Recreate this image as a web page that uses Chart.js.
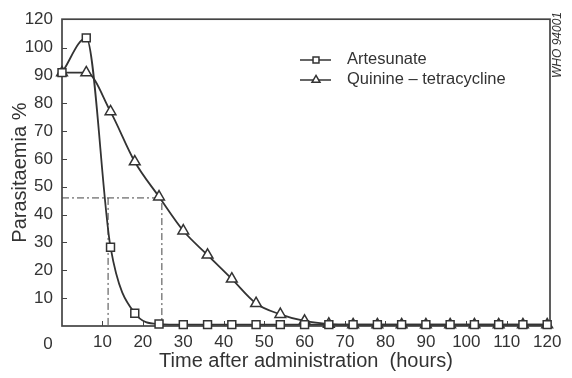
<!DOCTYPE html>
<html>
<head>
<meta charset="utf-8">
<title>Parasitaemia</title>
<script src="https://cdn.jsdelivr.net/npm/chart.js@4.4.1/dist/chart.umd.min.js"></script>
<style>
  html, body { margin: 0; padding: 0; background: #fff; }
</style>
</head>
<body>
<canvas id="chart" width="572" height="378"></canvas>
<script>
/* ─── Data ───────────────────────────────────────────── */
const HOURS = [0, 6, 12, 18, 24, 30, 36, 42, 48, 54, 60, 66, 72, 78, 84, 90, 96, 102, 108, 114, 120];
const ARTESUNATE = [91, 103.5, 28.3, 4.6, 0.7, 0.5, 0.5, 0.5, 0.5, 0.5, 0.5, 0.5, 0.5, 0.5, 0.5, 0.5, 0.5, 0.5, 0.5, 0.5, 0.5];
const QUININE = [91, 91, 77, 59, 46.4, 34.2, 25.5, 16.9, 8.1, 4.2, 1.8, 0.7, 0.5, 0.5, 0.5, 0.5, 0.5, 0.5, 0.5, 0.5, 0.5];

// 50 % clearance guide lines
const HALF_LEVEL = 46;
const HALF_TIMES = [11.4, 24.7];   // artesunate, quinine-tetracycline

const X_TICKS = [10, 20, 30, 40, 50, 60, 70, 80, 90, 100, 110, 120];
const Y_TICKS = [10, 20, 30, 40, 50, 60, 70, 80, 90, 100, 110];
const Y_TICK_LABELS = ["10", "20", "30", "40", "50", "60", "70", "80", "90", "100", "120"];

const SERIES_NAMES = ["Artesunate", "Quinine \u2013 tetracycline"];
const ORIGIN_LABEL = "0";
const STAMP = "WHO 94001";

/* ─── Styles ─────────────────────────────────────────── */
const INK = "#333";
const FONT = "'Liberation Sans', Arial, Helvetica, sans-serif";

function xy(xs, ys) {
  return xs.map((x, i) => ({ x: x, y: ys[i] }));
}

/* ─── Frame, inward ticks and extra labels ───────────── */
const framePlugin = {
  id: "frame",
  beforeDatasetsDraw(chart) {
    const { ctx, chartArea: a, scales } = chart;
    ctx.save();
    ctx.strokeStyle = "#444";
    ctx.lineWidth = 1.7;
    ctx.strokeRect(a.left, a.top, a.right - a.left, a.bottom - a.top);
    ctx.lineWidth = 1;
    ctx.beginPath();
    X_TICKS.forEach((v) => {
      const px = Math.round(scales.x.getPixelForValue(v)) + 0.5;
      ctx.moveTo(px, a.bottom);
      ctx.lineTo(px, a.bottom - 5);
    });
    Y_TICKS.slice(0, -1).forEach((v) => {
      const py = Math.round(scales.y.getPixelForValue(v)) + 0.5;
      ctx.moveTo(a.left, py);
      ctx.lineTo(a.left + 5, py);
    });
    ctx.stroke();
    ctx.restore();
  },
  afterDraw(chart) {
    const { ctx, chartArea: a } = chart;
    const helpers = Chart.helpers;
    ctx.save();
    ctx.fillStyle = INK;

    // origin "0"
    ctx.font = "17px " + FONT;
    ctx.textAlign = "center";
    ctx.textBaseline = "middle";
    ctx.fillText(ORIGIN_LABEL, a.left - 14, a.bottom + 18);

    // legend
    const rows = [60, 80];
    chart.data.datasets.slice(0, 2).forEach((ds, i) => {
      const y = rows[i];
      ctx.strokeStyle = INK;
      ctx.lineWidth = 1.5;
      ctx.beginPath();
      ctx.moveTo(300, y);
      ctx.lineTo(331, y);
      ctx.stroke();
      ctx.fillStyle = "#fff";
      helpers.drawPoint(ctx, { pointStyle: ds.pointStyle, radius: ds.pointStyle === "rect" ? 4.2 : 4.6, borderWidth: 1.4, rotation: 0 }, 316, y);
      ctx.fillStyle = INK;
      ctx.font = "16.5px " + FONT;
      ctx.textAlign = "left";
      ctx.textBaseline = "middle";
      ctx.fillText(SERIES_NAMES[i], 347, y - 1);
    });

    // stamp on the right edge
    ctx.translate(558, 45);
    ctx.rotate(-Math.PI / 2);
    ctx.font = "italic 12px " + FONT;
    ctx.textAlign = "center";
    ctx.textBaseline = "middle";
    ctx.fillText(STAMP, 0, 0);
    ctx.restore();
  },
};

/* ─── Chart ──────────────────────────────────────────── */
const guideStyle = {
  borderColor: "#444",
  borderWidth: 1,
  borderDash: [7, 3, 2, 3],
  pointRadius: 0,
  tension: 0,
  fill: false,
};

new Chart(document.getElementById("chart"), {
  type: "line",
  data: {
    datasets: [
      {
        label: SERIES_NAMES[0],
        data: xy(HOURS, ARTESUNATE),
        borderColor: INK,
        borderWidth: 1.8,
        pointStyle: "rect",
        pointRadius: 5.6,
        pointBorderWidth: 1.5,
        pointBorderColor: INK,
        pointBackgroundColor: "#fff",
        cubicInterpolationMode: "monotone",
        clip: false,
      },
      {
        label: SERIES_NAMES[1],
        data: xy(HOURS, QUININE),
        borderColor: INK,
        borderWidth: 1.8,
        pointStyle: "triangle",
        pointRadius: 6.2,
        pointBorderWidth: 1.5,
        pointBorderColor: INK,
        pointBackgroundColor: "#fff",
        cubicInterpolationMode: "monotone",
        clip: false,
      },
      Object.assign({
        data: [
          { x: 0, y: HALF_LEVEL },
          { x: HALF_TIMES[1], y: HALF_LEVEL },
          { x: HALF_TIMES[1], y: 0 },
        ],
      }, guideStyle),
      Object.assign({
        data: [
          { x: HALF_TIMES[0], y: HALF_LEVEL },
          { x: HALF_TIMES[0], y: 0 },
        ],
      }, guideStyle),
    ],
  },
  options: {
    responsive: false,
    animation: false,
    layout: { padding: { left: 0, top: 13, right: 22, bottom: 0 } },
    plugins: {
      legend: { display: false },
      tooltip: { enabled: false },
    },
    scales: {
      x: {
        type: "linear",
        min: 0,
        max: 120.7,
        afterBuildTicks: (s) => { s.ticks = X_TICKS.map((v) => ({ value: v })); },
        afterFit: (s) => { s.height = 52; },
        grid: { display: false, drawTicks: false },
        border: { display: false },
        ticks: {
          color: INK,
          padding: 6,
          maxRotation: 0,
          autoSkip: false,
          font: { family: FONT, size: 17 },
        },
        title: {
          display: true,
          text: "Time after administration  (hours)",
          color: INK,
          font: { family: FONT, size: 20 },
          padding: { top: 0, bottom: 5 },
        },
      },
      y: {
        type: "linear",
        min: 0,
        max: 110.2,
        afterBuildTicks: (s) => { s.ticks = Y_TICKS.map((v) => ({ value: v })); },
        afterFit: (s) => { s.width = 62; },
        grid: { display: false, drawTicks: false },
        border: { display: false },
        ticks: {
          color: INK,
          padding: 9,
          autoSkip: false,
          font: { family: FONT, size: 17 },
          callback: (v) => Y_TICK_LABELS[Y_TICKS.indexOf(v)],
        },
        title: {
          display: true,
          text: "Parasitaemia %",
          color: INK,
          font: { family: FONT, size: 20 },
          padding: { top: 8, bottom: 0 },
        },
      },
    },
  },
  plugins: [framePlugin],
});
</script>
</body>
</html>
